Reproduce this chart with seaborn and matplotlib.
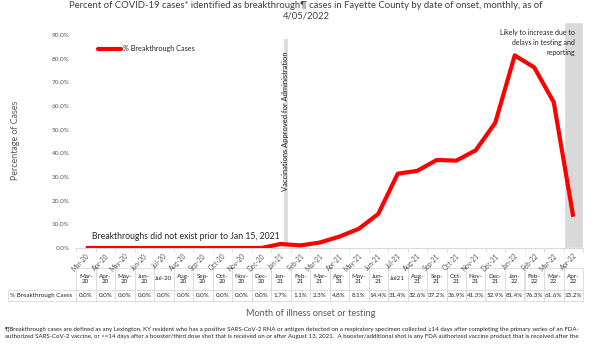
import matplotlib
matplotlib.use("Agg")
import matplotlib.pyplot as plt
from matplotlib.lines import Line2D
import seaborn as sns
import pandas as pd

# ---------------- data ----------------
months = ["Mar-20", "Apr-20", "May-20", "Jun-20", "Jul-20", "Aug-20", "Sep-20",
          "Oct-20", "Nov-20", "Dec-20", "Jan-21", "Feb-21", "Mar-21", "Apr-21",
          "May-21", "Jun-21", "Jul-21", "Aug-21", "Sep-21", "Oct-21", "Nov-21",
          "Dec-21", "Jan-22", "Feb-22", "Mar-22", "Apr-22"]
table_headers = ["Mar-\n20", "Apr-\n20", "May-\n20", "Jun-\n20", "Jul-20", "Aug-\n20",
                 "Sep-\n20", "Oct-\n20", "Nov-\n20", "Dec-\n20", "Jan-\n21", "Feb-\n21",
                 "Mar-\n21", "Apr-\n21", "May-\n21", "Jun-\n21", "Jul21", "Aug-\n21",
                 "Sep-\n21", "Oct-\n21", "Nov-\n21", "Dec-\n21", "Jan-\n22", "Feb-\n22",
                 "Mar-\n22", "Apr-\n22"]
breakthrough_pct = [0.0, 0.0, 0.0, 0.0, 0.0, 0.0, 0.0, 0.0, 0.0, 0.0,
                    1.7, 1.1, 2.3, 4.8, 8.1, 14.4, 31.4, 32.6, 37.2, 36.9,
                    41.3, 52.9, 81.4, 76.3, 61.6, 13.2]
series_name = "% Breakthrough Cases"
y_ticks = [0, 10, 20, 30, 40, 50, 60, 70, 80, 90]
vaccine_marker_month = "Jan-21"
vaccine_bar_height = 88.7
partial_month = "Apr-22"
partial_band_height = 95.5

title = ("Percent of COVID-19 cases* identified as breakthrough\u00b6 cases in Fayette County "
         "by date of onset, monthly, as of\n4/05/2022")
footnote = ("\u00b6Breakthrough cases are defined as any Lexington, KY resident who has a positive "
            "SARS-CoV-2 RNA or antigen detected on a respiratory specimen collected \u226514 days after "
            "completing the primary series of an FDA-\nauthorized SARS-CoV-2 vaccine, or >=14 days after a "
            "booster/third dose shot that is received on or after August 13, 2021.  A booster/additional "
            "shot is any FDA authorized vaccine product that is received after the")

# ---------------- style ----------------
sns.set_theme(style="white")
plt.rcParams["font.family"] = ["Lato", "DejaVu Sans"]
GRAY_TXT = "#595959"
LIGHT = "#d9d9d9"

W, H = 600, 350
fig = plt.figure(figsize=(6, 3.5), dpi=100)
ax_l, ax_r, ax_b, ax_t = 76, 583, 248, 22
ax = fig.add_axes([ax_l / W, 1 - ax_b / H, (ax_r - ax_l) / W, (ax_b - ax_t) / H])

df = pd.DataFrame({"month": months, "pct": breakthrough_pct})
df["pos"] = range(len(df))

# shaded bands
vac_pos = months.index(vaccine_marker_month)
ax.bar(vac_pos + 0.245, vaccine_bar_height, width=0.25, color=LIGHT, zorder=1)
part_pos = months.index(partial_month)
ax.bar(part_pos, partial_band_height, width=1.0, color=LIGHT, zorder=1)

sns.lineplot(data=df, x="pos", y="pct", color="#ff0000", linewidth=3.0, ax=ax,
             zorder=3, solid_capstyle="butt", legend=False)

ax.set_xlim(-0.5, len(months) - 0.5)
ax.set_ylim(0, partial_band_height)
ax.set_yticks(y_ticks)
ax.set_yticklabels([f"{v:.1f}%" for v in y_ticks], fontsize=4.6, color=GRAY_TXT)
ax.set_xticks(df["pos"])
ax.set_xticklabels(months, rotation=45, ha="right", rotation_mode="anchor",
                   fontsize=4.7, color=GRAY_TXT)
ax.set_xticks([p + 0.5 for p in range(-1, len(months))], minor=True)
ax.tick_params(axis="x", which="major", length=0, pad=3)
ax.tick_params(axis="x", which="minor", length=3, color=LIGHT, width=0.6, direction="out",
               bottom=True)
ax.tick_params(axis="y", length=0, pad=4.5)
ax.set_xlabel("")
ax.set_ylabel("")
for s in ["top", "right", "left"]:
    ax.spines[s].set_visible(False)
ax.spines["bottom"].set_color(LIGHT)
ax.spines["bottom"].set_linewidth(0.8)

# legend
h = Line2D([], [], color="#ff0000", linewidth=3.0)
ax.legend([h], [series_name], loc="center left",
          bbox_to_anchor=((98 - ax_l) / (ax_r - ax_l), (ax_b - 49) / (ax_b - ax_t)),
          frameon=False, fontsize=5.2, handlelength=3.2, handletextpad=0.3,
          borderpad=0, borderaxespad=0)

# annotations
ax.text(0.3, 2.9, "Breakthroughs did not exist prior to Jan 15, 2021", fontsize=6.2,
        color="#262626", ha="left", va="bottom")
ax.text(vac_pos + 0.245, 53.6, "Vaccinations Approved for Administration", rotation=90,
        fontsize=5.4, color="#262626", ha="center", va="center", zorder=4)
fig.text(575 / W, 1 - 29 / H, "Likely to increase due to\ndelays in testing and\nreporting",
         fontsize=5.0, color="#262626", ha="right", va="top", linespacing=1.5)

# data table
col_w = 1.0 / len(months)
row_label_w = (ax_l - 8) / (ax_r - ax_l)
tbl = ax.table(cellText=[[f"{v:.1f}%" for v in breakthrough_pct]],
               rowLabels=[series_name], colLabels=table_headers,
               colWidths=[col_w] * len(months),
               cellLoc="center", rowLoc="left",
               bbox=[0, (ax_b - 301) / (ax_b - ax_t), 1, 33 / (ax_b - ax_t)])
tbl.auto_set_font_size(False)
tbl.set_fontsize(4.5)
if hasattr(tbl, "_autoColumns"):
    tbl._autoColumns = [c for c in tbl._autoColumns if c != -1]
for (r, c), cell in tbl.get_celld().items():
    cell.set_edgecolor(LIGHT)
    cell.set_linewidth(0.6)
    cell.get_text().set_color("#262626")
    if r == 0:
        cell.set_height(2.0)
    else:
        cell.set_height(1.0)
    if c == -1:
        cell.set_width(row_label_w)
        cell.PAD = 0.03

# titles / labels
fig.text(306 / W, 1 - 1 / H, title, fontsize=6.8, color="#404040", ha="center", va="top",
         linespacing=1.25)
fig.text(16 / W, 1 - 140 / H, "Percentage of Cases", rotation=90, fontsize=6.4,
         color=GRAY_TXT, ha="center", va="center")
fig.text(311 / W, 1 - 313 / H, "Month of illness onset or testing", fontsize=6.6,
         color=GRAY_TXT, ha="center", va="center")
fig.text(5 / W, 1 - 327 / H, footnote, fontsize=4.45, color="#262626", ha="left", va="top",
         linespacing=1.55)

fig.savefig("out.png", dpi=100)
